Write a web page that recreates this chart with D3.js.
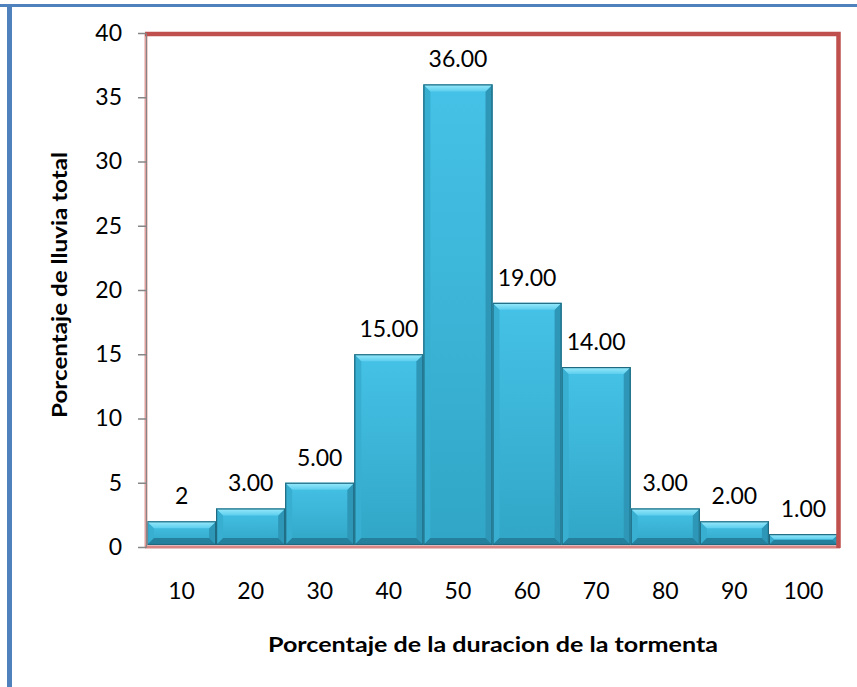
<!DOCTYPE html>
<html><head><meta charset="utf-8">
<script src="https://cdn.jsdelivr.net/npm/d3@7/dist/d3.min.js"></script>
<style>html,body{margin:0;padding:0;background:#fff;} svg{display:block;font-family:Lato,"Open Sans",sans-serif;}</style>
</head><body>
<script>
const categories = ["10","20","30","40","50","60","70","80","90","100"];
const values = [2,3,5,15,36,19,14,3,2,1];
const valueLabels = ["2","3.00","5.00","15.00","36.00","19.00","14.00","3.00","2.00","1.00"];
const yTicks = [0,5,10,15,20,25,30,35,40];
const xTitle = "Porcentaje de la duracion de la tormenta";
const yTitle = "Porcentaje de lluvia total";

const W = 857, H = 687;
const FS = 23;
const svg = d3.select("body").append("svg").attr("width", W).attr("height", H);
const plot = {x0:147, x1:838, y0:33, y1:547};

const x = d3.scaleBand().domain(categories).range([plot.x0, plot.x1]).padding(0);
const y = d3.scaleLinear().domain([0,40]).range([plot.y1, plot.y0]);

const defs = svg.append("defs");
const g1 = defs.append("linearGradient").attr("id","barFill").attr("x1",0).attr("y1",0).attr("x2",0).attr("y2",1);
g1.append("stop").attr("offset","0%").attr("stop-color","#45C2E7");
g1.append("stop").attr("offset","100%").attr("stop-color","#31A6C6");
const g2 = defs.append("linearGradient").attr("id","topFill").attr("x1",0).attr("y1",0).attr("x2",0).attr("y2",1);
g2.append("stop").attr("offset","0%").attr("stop-color","#9BEBFB");
g2.append("stop").attr("offset","100%").attr("stop-color","#5CCEEE");

// outer blue frame (top & left)
svg.append("rect").attr("x",0).attr("y",4).attr("width",W).attr("height",3).attr("fill","#4F81BD");
svg.append("rect").attr("x",7).attr("y",4).attr("width",5).attr("height",H).attr("fill","#4F81BD");

// bars
const bars = svg.append("g");
values.forEach((v,i)=>{
  const bx = x(categories[i]), bw = x.bandwidth();
  const by = y(v), bh = y(0) - y(v) - 2;
  const b = Math.min(7, bh/2, bw/2);
  const gg = bars.append("g");
  gg.append("rect").attr("x",bx).attr("y",by).attr("width",bw).attr("height",bh).attr("fill","url(#barFill)");
  const poly = (pts, fill) => gg.append("polygon").attr("points", pts.map(p=>p.join(",")).join(" ")).attr("fill", fill);
  poly([[bx,by],[bx+b,by+b],[bx+b,by+bh-b],[bx,by+bh]], "#38AED1");
  poly([[bx+bw,by],[bx+bw-b,by+b],[bx+bw-b,by+bh-b],[bx+bw,by+bh]], "#2E97B7");
  poly([[bx,by+bh],[bx+b,by+bh-b],[bx+bw-b,by+bh-b],[bx+bw,by+bh]], "#25809D");
  poly([[bx,by],[bx+bw,by],[bx+bw-b,by+b],[bx+b,by+b]], "url(#topFill)");
  gg.append("rect").attr("x",bx+0.5).attr("y",by+0.5).attr("width",bw-1).attr("height",bh-1)
    .attr("fill","none").attr("stroke","#1F6A80").attr("stroke-width",1.2);
  svg.append("text").attr("x", bx+bw/2).attr("y", by-17).attr("text-anchor","middle")
    .attr("font-size",FS).attr("fill","#000").text(valueLabels[i]);
});

// plot border
svg.append("line").attr("x1",plot.x0-1).attr("x2",plot.x0-1).attr("y1",plot.y0).attr("y2",plot.y1+1)
  .attr("stroke","#E0A09E").attr("stroke-width",3);
svg.append("line").attr("x1",plot.x0-2).attr("x2",plot.x1+2).attr("y1",plot.y1).attr("y2",plot.y1)
  .attr("stroke","#D98583").attr("stroke-width",3);
svg.append("path").attr("d",`M${plot.x0-2},${plot.y0+1} H${plot.x1+0.5} V${plot.y1+1}`)
  .attr("fill","none").attr("stroke","#C0504D").attr("stroke-width",4.5);

// y axis
const yAxis = d3.axisLeft(y).tickValues(yTicks).tickSize(8).tickPadding(16).tickFormat(d3.format("d"));
const ya = svg.append("g").attr("transform",`translate(${plot.x0-1},0)`).call(yAxis);
ya.select(".domain").attr("stroke","#868686").attr("stroke-width",1);
ya.selectAll(".tick line").attr("stroke","#868686").attr("stroke-width",1.5);
ya.selectAll(".tick text").attr("font-size",FS).attr("font-family","Lato,'Open Sans',sans-serif").attr("fill","#000");

// x axis labels
const xAxis = d3.axisBottom(x).tickSize(0).tickPadding(0);
const xa = svg.append("g").attr("transform",`translate(0,${plot.y1})`).call(xAxis);
xa.select(".domain").remove();
xa.selectAll(".tick text").attr("font-size",FS).attr("font-family","Lato,'Open Sans',sans-serif")
  .attr("fill","#000").attr("dy",0).attr("y",52);

// titles
svg.append("text").attr("x",493).attr("y",652).attr("text-anchor","middle")
  .attr("font-size",21).attr("font-weight","bold").attr("textLength",450).attr("lengthAdjust","spacingAndGlyphs").text(xTitle);
svg.append("text").attr("transform","translate(67,285) rotate(-90)").attr("text-anchor","middle")
  .attr("font-size",21).attr("font-weight","bold").attr("textLength",266).attr("lengthAdjust","spacingAndGlyphs").text(yTitle);
</script>
</body></html>
